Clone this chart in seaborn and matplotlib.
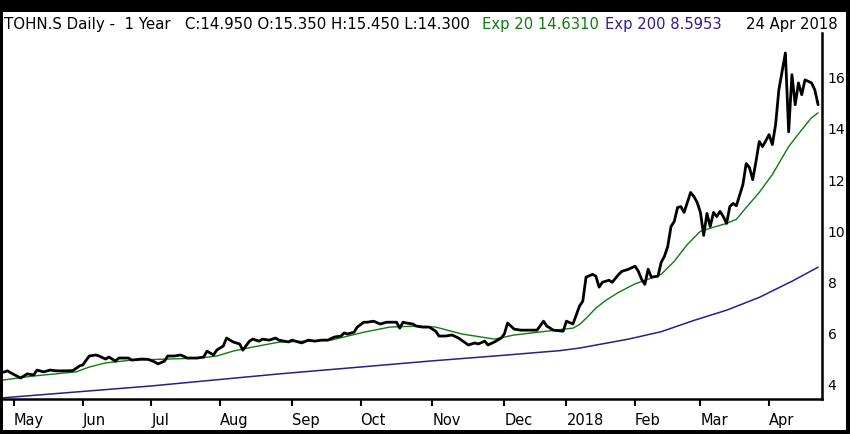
import numpy as np
import pandas as pd
import matplotlib
matplotlib.use('Agg')
import matplotlib.pyplot as plt
from matplotlib.patches import Rectangle
import seaborn as sns

# SIX trading calendar for the one-year window
start_date = '2017-04-24'
end_date = '2018-04-24'
six_holidays = ['2017-05-01', '2017-05-25', '2017-06-05', '2017-08-01',
                '2017-12-25', '2017-12-26', '2018-01-01', '2018-01-02',
                '2018-03-30', '2018-04-02']

# closing price, sampled by session number (0 = 24 Apr 2017)
price_day = [1, 2, 3, 4, 7, 9, 11, 12, 14, 16, 18, 21, 23, 25, 26, 28, 30, 31, 33, 34,
             36, 37, 40, 41, 44, 46, 48, 49, 51, 52, 54, 56, 58, 61, 63, 64, 66, 67, 69, 70,
             72, 74, 75, 77, 78, 80, 81, 83, 85, 86, 89, 90, 93, 95, 97, 99, 101, 103, 105, 106,
             107, 109, 110, 112, 113, 115, 117, 119, 122, 123, 124, 125, 127, 128, 130, 132, 134, 135, 137, 139,
             141, 144, 146, 147, 149, 150, 152, 154, 155, 156, 158, 160, 163, 165, 167, 168, 170, 173, 174, 176,
             178, 179, 180, 182, 183, 184, 185, 187, 188, 190, 191, 193, 195, 196, 197, 198, 199, 200, 202, 203,
             204, 205, 206, 207, 208, 209, 210, 212, 213, 214, 215, 216, 217, 218, 219, 220, 221, 222, 223, 224,
             225, 226, 228, 229, 230, 231, 232, 233, 234, 235, 236, 237, 238, 239, 241, 242, 243, 244, 245, 246,
             247, 249, 250, 251]
price_close = [4.48, 4.51, 4.55, 4.47, 4.27, 4.43, 4.39, 4.58, 4.51, 4.58, 4.55, 4.55, 4.56, 4.74, 4.78, 5.13, 5.17, 5.13, 5.01, 5.09,
               4.93, 5.05, 5.05, 4.97, 5.01, 5.00, 4.90, 4.82, 4.93, 5.13, 5.13, 5.17, 5.05, 5.05, 5.09, 5.32, 5.17, 5.36, 5.52, 5.83,
               5.68, 5.60, 5.36, 5.71, 5.79, 5.71, 5.79, 5.75, 5.83, 5.75, 5.68, 5.75, 5.64, 5.75, 5.71, 5.75, 5.75, 5.87, 5.91, 6.03,
               5.99, 6.06, 6.26, 6.45, 6.45, 6.49, 6.38, 6.45, 6.45, 6.22, 6.45, 6.42, 6.38, 6.30, 6.26, 6.26, 6.10, 5.91, 5.91, 5.95,
               5.83, 5.56, 5.64, 5.60, 5.71, 5.56, 5.68, 5.83, 5.99, 6.42, 6.18, 6.14, 6.14, 6.14, 6.49, 6.30, 6.14, 6.10, 6.49, 6.38,
               7.08, 7.27, 8.21, 8.32, 8.25, 7.82, 8.01, 8.09, 8.01, 8.32, 8.44, 8.52, 8.64, 8.44, 8.13, 7.93, 8.52, 8.21, 8.25, 8.79,
               9.03, 9.41, 10.19, 10.39, 10.93, 10.97, 10.74, 11.52, 11.36, 11.13, 10.74, 9.84, 10.70, 10.19, 10.74, 10.58, 10.78, 10.58, 10.31, 10.97,
               11.09, 11.00, 11.83, 12.65, 12.49, 12.02, 12.73, 13.51, 13.31, 13.54, 13.78, 13.39, 14.17, 15.53, 16.97, 13.89, 16.12, 14.95, 15.80, 15.34,
               15.92, 15.80, 15.53, 14.95]

ema20_day = [1, 11, 24, 28, 33, 41, 52, 62, 67, 72, 78, 86, 102, 112, 120, 128, 134, 142, 152, 158,
             168, 176, 178, 180, 183, 186, 190, 195, 199, 203, 207, 211, 215, 219, 223, 226, 229, 233, 237, 242,
             246, 249, 251]
ema20_value = [4.18, 4.35, 4.51, 4.70, 4.86, 4.97, 5.01, 5.05, 5.13, 5.32, 5.48, 5.67, 5.75, 6.06, 6.26, 6.30, 6.26, 5.99, 5.79, 5.95,
               6.10, 6.22, 6.36, 6.60, 7.00, 7.30, 7.62, 7.95, 8.13, 8.32, 8.83, 9.49, 10.00, 10.16, 10.31, 10.47, 10.93, 11.52, 12.22, 13.31,
               13.97, 14.44, 14.63]

ema200_day = [1, 47, 86, 111, 132, 154, 172, 178, 193, 203, 213, 223, 233, 243, 251]
ema200_value = [3.49, 3.96, 4.43, 4.70, 4.93, 5.15, 5.34, 5.44, 5.79, 6.08, 6.52, 6.92, 7.42, 8.05, 8.60]

y_ticks = [4, 6, 8, 10, 12, 14, 16]

header_text = 'TOHN.S Daily -  1 Year   C:14.950 O:15.350 H:15.450 L:14.300'
ema20_text = 'Exp 20 14.6310'
ema200_text = 'Exp 200 8.5953'
date_text = '24 Apr 2018'

green = '#0f7a0f'
purple = '#32198c'

sns.set_style('white')
plt.rcParams['font.family'] = ['DejaVu Sans']

# month ticks sit on the first session of each month
sessions = pd.bdate_range(start_date, end_date)
sessions = sessions[~sessions.isin(pd.to_datetime(six_holidays))]
cal = pd.DataFrame({'date': sessions, 'day': np.arange(len(sessions))})
first_day = cal.groupby(cal['date'].dt.to_period('M'))['day'].min().iloc[1:]
month_labels = [str(p.year) if p.month == 1 else p.strftime('%b') for p in first_day.index]

W, H = 850, 434
fig = plt.figure(figsize=(W / 100, H / 100), dpi=100)
fig.patch.set_facecolor('black')
fig.add_artist(Rectangle((3 / W, 4 / H), 843 / W, 418 / H, transform=fig.transFigure,
                         facecolor='white', edgecolor='none', zorder=-10))

ax = fig.add_axes([3 / W, 35 / H, 819 / W, 366 / H])
ax.set_facecolor('none')

sns.lineplot(x=ema200_day, y=ema200_value, ax=ax, color=purple, linewidth=1.1)
sns.lineplot(x=ema20_day, y=ema20_value, ax=ax, color=green, linewidth=1.0)
sns.lineplot(x=price_day, y=price_close, ax=ax, color='black', linewidth=2.0)

ax.set_xlim(1.6, 252.2)
ax.set_ylim(3.45, 17.75)
ax.set_xlabel('')
ax.set_ylabel('')

for side in ['top', 'left']:
    ax.spines[side].set_visible(False)
for side in ['right', 'bottom']:
    ax.spines[side].set_color('black')
    ax.spines[side].set_linewidth(1.8)

ax.yaxis.tick_right()
ax.set_yticks(y_ticks)
ax.set_yticklabels([str(v) for v in y_ticks])
ax.tick_params(axis='y', length=0, pad=4, labelsize=10, colors='black')

ax.set_xticks(first_day.values)
ax.set_xticklabels(month_labels)
ax.tick_params(axis='x', direction='out', length=5, width=1.5, pad=5,
               labelsize=10.5, colors='black', bottom=True)
for lab in ax.get_xticklabels():
    lab.set_horizontalalignment('left')

# header line above the plot
base_y = (H - 29) / H
fig.text(4 / W, base_y, header_text, fontsize=10.8, color='black', va='baseline')
fig.text(482 / W, base_y, ema20_text, fontsize=10.6, color=green, va='baseline')
fig.text(605 / W, base_y, ema200_text, fontsize=10.6, color=purple, va='baseline')
fig.text(838 / W, base_y, date_text, fontsize=10.6, color='black', va='baseline', ha='right')

fig.savefig('out.png', dpi=100)
